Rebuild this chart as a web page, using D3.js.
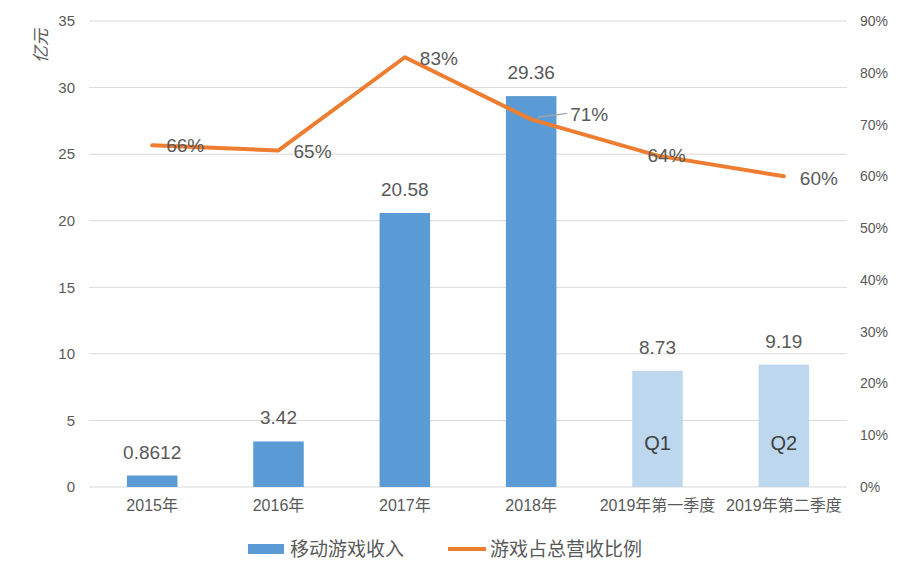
<!DOCTYPE html>
<html><head><meta charset="utf-8">
<script src="https://cdn.jsdelivr.net/npm/d3@7"></script>
<style>body{margin:0;background:#fff;} text{font-family:"Liberation Sans","Noto Sans CJK SC",sans-serif;}</style>
</head><body><svg id="c" width="900" height="577"></svg>
<script>
const categories = ["2015年","2016年","2017年","2018年","2019年第一季度","2019年第二季度"];
const revenue = [0.8612, 3.42, 20.58, 29.36, 8.73, 9.19];
const revenueLabels = ["0.8612","3.42","20.58","29.36","8.73","9.19"];
const share = [0.66, 0.65, 0.83, 0.71, 0.64, 0.60];
const innerLabels = ["","","","","Q1","Q2"];
const leftTicks = [0,5,10,15,20,25,30,35];
const rightTicks = [0,0.1,0.2,0.3,0.4,0.5,0.6,0.7,0.8,0.9];
const seriesNames = ["移动游戏收入","游戏占总营收比例"];

const svg = d3.select("#c");
const L = 89, R = 847, T = 21, B = 487;
const x = d3.scaleBand().domain(categories).range([L, R]).paddingInner(0.6).paddingOuter(0.3);
const yL = d3.scaleLinear().domain([0,35]).range([B, T]);
const yR = d3.scaleLinear().domain([0,0.9]).range([B, T]);
const grey = "#595959";

// grid
svg.append("g").selectAll("line").data(leftTicks).join("line")
  .attr("x1", L).attr("x2", R).attr("y1", d=>yL(d)).attr("y2", d=>yL(d))
  .attr("stroke", "#d9d9d9").attr("stroke-width", 1);

// left axis
const axL = svg.append("g").attr("transform", `translate(${L},0)`)
  .call(d3.axisLeft(yL).tickValues(leftTicks).tickSize(0).tickPadding(14));
axL.select(".domain").remove();
axL.selectAll("text").attr("fill", grey).style("font-size","15px");

// right axis
const axR = svg.append("g").attr("transform", `translate(${R},0)`)
  .call(d3.axisRight(yR).tickValues(rightTicks).tickSize(0).tickPadding(13).tickFormat(d3.format(".0%")));
axR.select(".domain").remove();
axR.selectAll("text").attr("fill", grey).style("font-size","14px");

// x axis
const axX = svg.append("g").attr("transform", `translate(0,${B})`)
  .call(d3.axisBottom(x).tickSize(0).tickPadding(13));
axX.select(".domain").remove();
axX.selectAll("text").attr("fill", grey).style("font-size","16px");

// axis title
svg.append("text").attr("transform","translate(47,46) rotate(-90)")
  .attr("text-anchor","middle").attr("fill", grey).style("font-size","17px").style("font-style","italic").text("亿元");

// bars
svg.append("g").selectAll("rect").data(revenue).join("rect")
  .attr("x", (d,i)=>x(categories[i])).attr("width", x.bandwidth())
  .attr("y", d=>yL(d)).attr("height", d=>B - yL(d))
  .attr("fill", (d,i)=> i>=4 ? "#bdd7ee" : "#5b9bd5");

svg.append("g").selectAll("text").data(revenue).join("text")
  .attr("x", (d,i)=>x(categories[i]) + x.bandwidth()/2)
  .attr("y", d=>yL(d) - 17).attr("text-anchor","middle")
  .attr("fill", grey).style("font-size","19px").text((d,i)=>revenueLabels[i]);

svg.append("g").selectAll("text").data(innerLabels).join("text")
  .attr("x", (d,i)=>x(categories[i]) + x.bandwidth()/2)
  .attr("y", 450).attr("text-anchor","middle")
  .attr("fill", "#404040").style("font-size","20px").text(d=>d);

// line
const cx = i => x(categories[i]) + x.bandwidth()/2;
const line = d3.line().x((d,i)=>cx(i)).y(d=>yR(d));
svg.append("path").datum(share).attr("d", line).attr("fill","none")
  .attr("stroke","#ed7d31").attr("stroke-width",4).attr("stroke-linejoin","round").attr("stroke-linecap","round");

// leader line for 71%
svg.append("line").attr("x1", cx(3)+6).attr("y1", yR(share[3])-2)
  .attr("x2", cx(3)+36).attr("y2", yR(share[3])-6).attr("stroke","#a6a6a6").attr("stroke-width",1.5);

const lblOff = [[14,7],[15,8],[15,8],[39,2],[-10,6],[16,9]];
svg.append("g").selectAll("text").data(share).join("text")
  .attr("x", (d,i)=>cx(i)+lblOff[i][0]).attr("y", (d,i)=> yR(d) + lblOff[i][1])
  .attr("fill", grey).style("font-size","19px").text(d=>d3.format(".0%")(d));

// legend
const lg = svg.append("g");
lg.append("rect").attr("x",248).attr("y",544).attr("width",36).attr("height",10).attr("fill","#5b9bd5");
lg.append("text").attr("x",290).attr("y",556).attr("fill",grey).style("font-size","19px").text(seriesNames[0]);
lg.append("line").attr("x1",448).attr("x2",486).attr("y1",549).attr("y2",549).attr("stroke","#ed7d31").attr("stroke-width",4);
lg.append("text").attr("x",490).attr("y",556).attr("fill",grey).style("font-size","19px").text(seriesNames[1]);
</script></body></html>
